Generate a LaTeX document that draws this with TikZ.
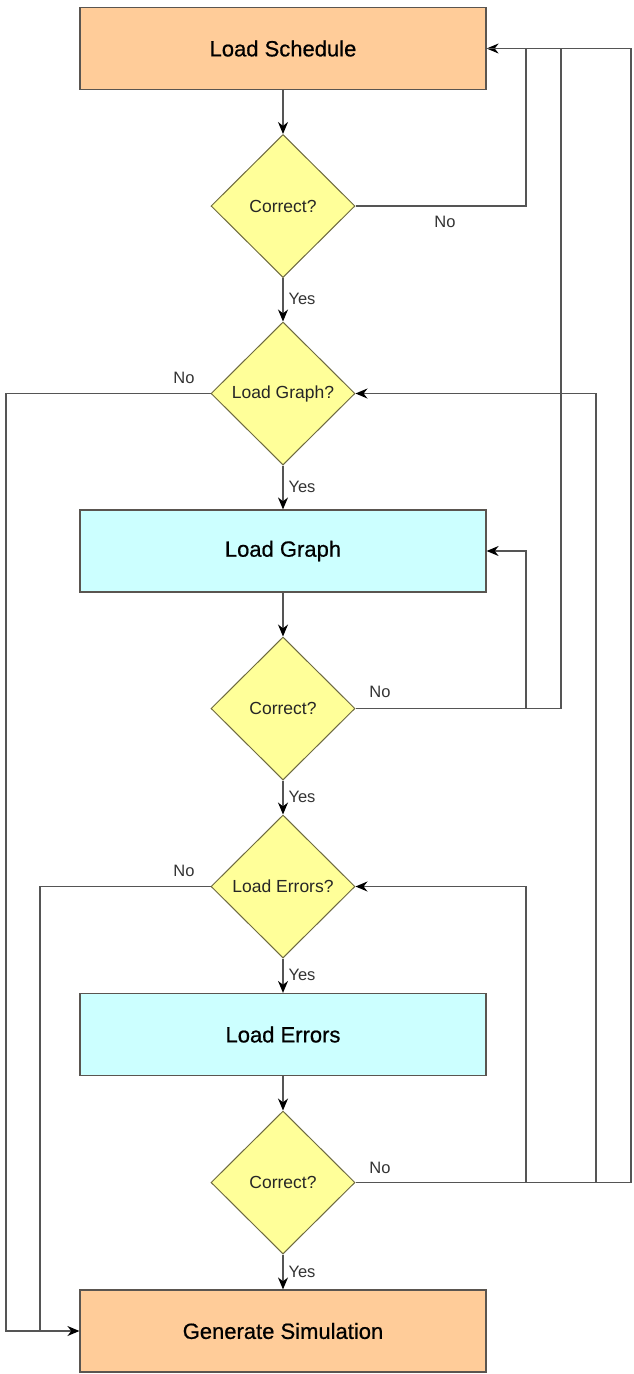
\documentclass[tikz,border=0pt]{standalone}
\usepackage{fontspec}
\setmainfont{Liberation Sans}
\newfontfamily\stepfont[FakeBold=0.7]{Liberation Sans}
\usetikzlibrary{shapes.geometric,arrows.meta}
\definecolor{peach}{HTML}{FFCC99}
\definecolor{aqua}{HTML}{CCFFFF}
\definecolor{lemon}{HTML}{FFFF99}
\definecolor{wire}{HTML}{555555}
\definecolor{boxedge}{HTML}{5A5550}
\definecolor{diaedge}{HTML}{6E6A40}
\begin{document}
\begin{tikzpicture}[x=1pt,y=-1pt,
  stepbox/.style={draw=boxedge,line width=1.2pt,minimum width=406pt,minimum height=82pt,
    inner sep=0pt,font=\stepfont\fontsize{22}{24}\selectfont},
  check/.style={diamond,draw=diaedge,fill=lemon,line width=1pt,minimum width=144pt,
    minimum height=143pt,inner sep=0pt,text=black!85,font=\fontsize{17.5}{20}\selectfont},
  flow/.style={draw=wire,line width=1.2pt,-{Stealth[length=12pt,width=10pt,black]}},
  link/.style={draw=wire,line width=1.2pt},
  tag/.style={font=\fontsize{16.5}{18}\selectfont,text=black!80,inner sep=0pt}]
\useasboundingbox (0,0) rectangle (633,1374);

% process steps and decisions, top to bottom
\node[stepbox,fill=peach] (ls) at (283,48.5) {Load Schedule};
\node[check] (d1) at (283,206) {Correct?};
\node[check] (d2) at (283,393.5) {Load Graph?};
\node[stepbox,fill=aqua] (lg) at (283,551) {Load Graph};
\node[check] (d3) at (283,708.5) {Correct?};
\node[check] (d4) at (283,886.5) {Load Errors?};
\node[stepbox,fill=aqua] (le) at (283,1034.5) {Load Errors};
\node[check] (d5) at (283,1182.5) {Correct?};
\node[stepbox,fill=peach] (gs) at (283,1331) {Generate Simulation};

% vertical lanes for the return paths
\coordinate (laneA) at (526,0);
\coordinate (laneB) at (561,0);
\coordinate (laneC) at (596,0);
\coordinate (laneD) at (631,0);
\coordinate (laneL) at (6,0);
\coordinate (laneM) at (40,0);

% main line
\draw[flow] (ls) -- (d1);
\draw[flow] (d1) -- (d2);
\draw[flow] (d2) -- (lg);
\draw[flow] (lg) -- (d3);
\draw[flow] (d3) -- (d4);
\draw[flow] (d4) -- (le);
\draw[flow] (le) -- (d5);
\draw[flow] (d5) -- (gs);

% "No" from the first check: back to Load Schedule
\draw[flow] (d1.east) -- (d1.east -| laneA) -- (laneA |- ls.east) -- (ls.east);

% "No" from the graph check: back to Load Graph and to Load Schedule
\draw[link] (d3.east) -- (d3.east -| laneB) -- (laneB |- ls.east);
\draw[flow] (d3.east -| laneA) -- (laneA |- lg.east) -- (lg.east);

% "No" from the errors check: back to the three earlier stages
\draw[link] (d5.east) -- (d5.east -| laneD) -- (laneD |- ls.east) -- (ls.east);
\draw[flow] (d5.east -| laneA) -- (laneA |- d4.east) -- (d4.east);
\draw[flow] (d5.east -| laneC) -- (laneC |- d2.east) -- (d2.east);

% skipping optional inputs: straight to Generate Simulation
\draw[flow] (d2.west) -- (d2.west -| laneL) -- (laneL |- gs.west) -- (gs.west);
\draw[link] (d4.west) -- (d4.west -| laneM) -- (laneM |- gs.west);

% branch labels
\node[tag] (n1) at (445,222) {No};
\node[tag] (y1) at (302,299) {Yes};
\node[tag] (n2) at (184,378) {No};
\node[tag] (y2) at (302,487) {Yes};
\node[tag] (n3) at (380,692) {No};
\node[tag] (y3) at (302,797) {Yes};
\node[tag] (n4) at (184,871) {No};
\node[tag] (y4) at (302,975) {Yes};
\node[tag] (n5) at (380,1168) {No};
\node[tag] (y5) at (302,1272) {Yes};
\end{tikzpicture}
\end{document}
